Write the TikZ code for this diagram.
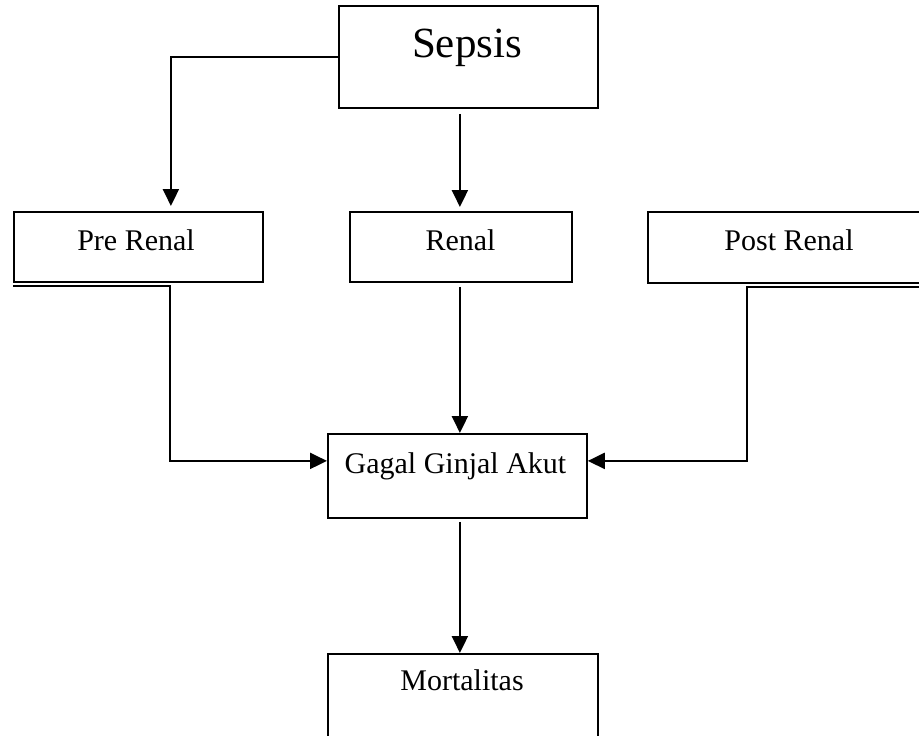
\documentclass[tikz,border=0pt]{standalone}
\usepackage{fontspec}
\setmainfont{Liberation Serif}
\usetikzlibrary{arrows.meta}
\begin{document}
\begin{tikzpicture}[x=1pt,y=-1pt,
  box/.style={draw, line width=1.8pt, rectangle, inner sep=0pt, anchor=north west},
  conn/.style={line width=2.2pt},
  arr/.style={conn, -{Triangle[length=17pt,width=16pt]}},
  lbl/.style={anchor=base, inner sep=0pt, font=\fontsize{30}{36}\selectfont}]
\useasboundingbox (0,0) rectangle (919,736);
\clip (0,0) rectangle (919,736);

% boxes
\node[box, minimum width=259pt, minimum height=102pt] (sepsis) at (338,5) {};
\node[box, minimum width=249pt, minimum height=70pt] (pre) at (13,211) {};
\node[box, minimum width=222pt, minimum height=70pt] (renal) at (349,211) {};
\node[box, minimum width=290pt, minimum height=71pt] (post) at (647,211) {};
\node[box, minimum width=259pt, minimum height=84pt] (gagal) at (327,433) {};
\node[box, minimum width=270pt, minimum height=100pt] (mort) at (327,653) {};

% texts
\node[lbl, font=\fontsize{43}{50}\selectfont] (tsepsis) at (467,57) {Sepsis};
\node[lbl] (tpre) at (136,250.5) {Pre Renal};
\node[lbl] (trenal) at (460.5,250) {Renal};
\node[lbl] (tpost) at (789,250) {Post Renal};
\node[lbl] (tgagal) at (455.5,473) {Gagal Ginjal Akut};
\node[lbl] (tmort) at (462,690) {Mortalitas};

% connectors
\coordinate (prein) at ([xshift=32.5pt]pre.north);
\draw[arr, shorten >=5pt] (sepsis.west) -| (prein);
\draw[arr, shorten <=5pt, shorten >=4pt] ([xshift=-1pt]renal.north |- sepsis.south) -- ([xshift=-1pt]renal.north);
\draw[arr, shorten <=4pt] ([xshift=-1pt]renal.south) -- ([xshift=-1pt]renal.south |- gagal.north);
\draw[arr, shorten <=3pt] ([xshift=-1pt]renal.south |- gagal.south) -- ([xshift=-1pt]renal.south |- mort.north);

\coordinate (prefoot) at ([yshift=-3pt]pre.south west);
\coordinate (prebend) at ([yshift=-3pt,xshift=157pt]pre.south west);
\draw[arr] (prefoot) -- (prebend) |- ([yshift=15pt]gagal.west);

\coordinate (postfoot) at ([yshift=-3pt]post.south east);
\coordinate (postbend) at ([yshift=-3pt,xshift=100pt]post.south west);
\draw[arr] (postfoot) -- (postbend) |- ([yshift=15pt]gagal.east);
\end{tikzpicture}
\end{document}
